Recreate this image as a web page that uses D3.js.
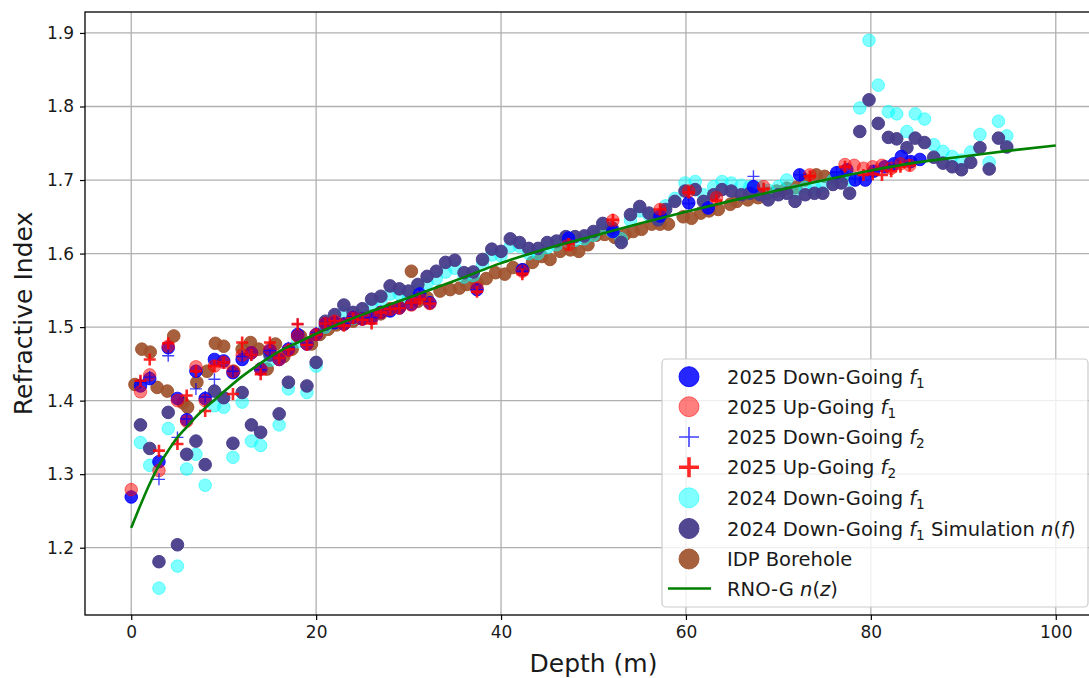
<!DOCTYPE html>
<html><head><meta charset="utf-8">
<script src="https://cdn.jsdelivr.net/npm/d3@7"></script>
<style>body{margin:0;background:#fff}svg{display:block}text{font-family:"DejaVu Sans",sans-serif;fill:#1a1a1a}</style>
</head><body><svg id="c" width="1089" height="678"></svg>
<script>
// ---- Data ----
const xTicks = [0, 20, 40, 60, 80, 100];
const yTicks = [1.2, 1.3, 1.4, 1.5, 1.6, 1.7, 1.8, 1.9];

const d25DownF1 = [0,1,2,3,4,5,6,7,8,9,10,11,12,13,14,15,16,17,18,19,20,21,22,23,24,25,26,27,28,29,30.3,31.2,32.3,37.4,42.3,47.3,52.1,57.2,60.3,62.4,67.3,72.3,76.3,77.4,78.3,79.4,80.3,81.5,82.5,83.3,84.3,85.3];
const n25DownF1 = [1.269,1.420,1.430,1.317,1.472,1.403,1.374,1.440,1.403,1.456,1.454,1.438,1.456,1.465,1.443,1.468,1.456,1.470,1.490,1.477,1.490,1.504,1.506,1.504,1.513,1.511,1.512,1.520,1.522,1.526,1.531,1.545,1.533,1.551,1.578,1.621,1.630,1.651,1.669,1.662,1.691,1.707,1.710,1.714,1.700,1.700,1.712,1.718,1.722,1.732,1.725,1.728];

const d25UpF1 = [0,1,2,3,4,5,6,7,8,9,10,11,12,13,14,15,16,17,18,19,20,21,22,23,24,25,26,27,28,29,30.3,31.2,32.3,37.4,42.3,47.3,52.1,57.2,60.3,63.3,68.4,73.4,77.2,78.2,79.2,80.2,81.2,82.2,83.2,84.2];
const n25UpF1 = [1.279,1.412,1.435,1.305,1.474,1.400,1.372,1.446,1.400,1.447,1.452,1.440,1.462,1.465,1.443,1.470,1.456,1.468,1.488,1.477,1.490,1.505,1.508,1.504,1.513,1.511,1.512,1.520,1.524,1.526,1.530,1.540,1.532,1.553,1.576,1.612,1.645,1.660,1.685,1.676,1.691,1.707,1.721,1.720,1.716,1.718,1.720,1.716,1.722,1.720];

const d25DownF2 = [1,2,3,4,5,6,7,8,9,10,11,12,13,14,15,16,17,18,19,20,21,22,23,24,25,26,27,28,29,30.3,31.2,32.3,37.4,42.3,47.3,52.1,57.2,60.3,62.4,67.3,72.3,76.3,78.3,80.3,82.5,84.3];
const n25DownF2 = [1.425,1.432,1.293,1.461,1.350,1.375,1.416,1.405,1.429,1.452,1.440,1.460,1.462,1.442,1.468,1.458,1.472,1.504,1.478,1.492,1.505,1.507,1.505,1.514,1.512,1.513,1.521,1.523,1.527,1.532,1.546,1.534,1.551,1.576,1.620,1.633,1.652,1.668,1.663,1.705,1.707,1.711,1.702,1.712,1.720,1.724];

const d25UpF2 = [1,2,3,4,5,6,7,8,9,10,11,12,13,14,15,16,17,18,19,20,21,22,23,24,25,26,27,28,29,30.3,31.2,32.3,37.4,42.3,47.3,52.1,57.2,60.3,63.3,68.4,73.4,77.2,79.2,80.2,81.2,82.2,83.2,84.2];
const n25UpF2 = [1.427,1.456,1.332,1.478,1.341,1.407,1.440,1.386,1.447,1.452,1.409,1.479,1.462,1.436,1.479,1.458,1.470,1.504,1.476,1.490,1.505,1.508,1.502,1.512,1.510,1.505,1.520,1.524,1.526,1.533,1.538,1.532,1.548,1.572,1.613,1.646,1.660,1.683,1.672,1.688,1.705,1.718,1.707,1.708,1.707,1.712,1.718,1.720];

const d24 = [1,2,3,4,5,6,7,8,9,10,11,12,13,14,15,16,17,18,19,20,21,22,23,24,25,26,27,28,29,30,31,32,33,34,35,36,37,38,39,40,41,42,43,44,45,46,47,48,49,50,51,52,53,54,55,56,57,57.8,58.8,59.9,61,61.9,63,63.9,64.9,66,66.9,68,68.9,70,70.9,71.8,72.9,73.9,74.8,75.9,76.8,77.7,78.8,79.8,80.8,81.9,82.8,83.9,84.8,85.8,86.8,87.8,88.8,89.8,90.8,91.8,92.8,93.8,94.7];
const n24DownF1 = [1.343,1.312,1.145,1.362,1.175,1.307,1.327,1.285,1.393,1.391,1.323,1.398,1.345,1.339,1.455,1.367,1.416,1.480,1.411,1.447,1.500,1.508,1.520,1.512,1.515,1.530,1.535,1.545,1.545,1.540,1.550,1.560,1.566,1.575,1.580,1.568,1.570,1.585,1.598,1.597,1.610,1.610,1.600,1.600,1.608,1.612,1.617,1.618,1.620,1.625,1.635,1.630,1.620,1.645,1.658,1.652,1.648,1.665,1.675,1.696,1.698,1.680,1.691,1.698,1.696,1.693,1.691,1.690,1.686,1.691,1.700,1.685,1.690,1.690,1.692,1.700,1.705,1.700,1.798,1.890,1.829,1.793,1.790,1.766,1.790,1.783,1.748,1.739,1.732,1.727,1.738,1.762,1.724,1.780,1.760];
const n24Sim = [1.367,1.335,1.181,1.384,1.204,1.327,1.345,1.313,1.413,1.404,1.342,1.411,1.367,1.357,1.462,1.382,1.425,1.488,1.420,1.452,1.508,1.517,1.530,1.520,1.525,1.538,1.542,1.556,1.552,1.549,1.558,1.569,1.576,1.588,1.591,1.574,1.575,1.592,1.606,1.603,1.620,1.615,1.607,1.607,1.615,1.617,1.623,1.623,1.624,1.630,1.641,1.635,1.615,1.653,1.664,1.655,1.646,1.660,1.671,1.685,1.687,1.671,1.680,1.687,1.685,1.680,1.682,1.680,1.673,1.680,1.682,1.671,1.680,1.682,1.682,1.694,1.696,1.682,1.766,1.809,1.777,1.758,1.756,1.744,1.757,1.751,1.731,1.723,1.718,1.714,1.724,1.744,1.715,1.757,1.745];

const dIDP = [0.4,1.15,2.05,2.8,3.9,4.6,5.6,6.1,7.1,8.2,9.1,10.0,11.1,12.0,12.9,13.8,14.7,15.6,16.5,17.4,18.3,19.5,20.4,21.3,22.2,23.1,24.0,25,26,27,28,29,30.3,31,32,33.4,34.5,35.5,36.3,37.4,38.4,39.4,40.4,41.3,42.4,43.4,44.4,45.3,46.4,47.5,48.4,49.4,50.3,51.2,52.3,53.4,54.3,55.2,56.3,57.2,58.1,59.7,60.6,61.6,62.5,63.5,64.8,65.5,66.7,67.8,68.8,69.8,70.9,71.9,72.9,74.1,75.0,76.0,77.0];
const nIDP = [1.422,1.470,1.466,1.418,1.413,1.488,1.397,1.391,1.425,1.440,1.478,1.474,1.440,1.470,1.479,1.470,1.443,1.477,1.460,1.470,1.488,1.477,1.490,1.497,1.503,1.505,1.508,1.512,1.515,1.518,1.525,1.528,1.576,1.535,1.540,1.549,1.551,1.553,1.558,1.560,1.566,1.574,1.572,1.581,1.578,1.588,1.596,1.592,1.603,1.605,1.603,1.612,1.625,1.626,1.622,1.626,1.630,1.633,1.640,1.640,1.640,1.650,1.648,1.655,1.658,1.660,1.667,1.671,1.673,1.676,1.682,1.685,1.689,1.690,1.700,1.707,1.705,1.703,1.705];

const dModel = [0,1,2,3,4,5,6,7,8,9,10,12,14,16,18,20,22,25,30,35,40,45,50,55,60,65,70,75,80,85,90,95,100];
const nModel = [1.227,1.258,1.287,1.312,1.332,1.350,1.364,1.378,1.390,1.401,1.412,1.433,1.451,1.467,1.479,1.491,1.502,1.517,1.540,1.563,1.587,1.607,1.624,1.641,1.657,1.672,1.686,1.700,1.713,1.724,1.732,1.740,1.747];

const legendLabels = ["2025 Down-Going", "2025 Up-Going", "2025 Down-Going", "2025 Up-Going", "2024 Down-Going", "2024 Down-Going", "IDP Borehole", "RNO-G"];

// ---- Chart ----
const svg = d3.select("#c");
const L = 85, R = 1102, T = 12, B = 615;
const x = d3.scaleLinear().domain([-5, 105]).range([L, R]);
const y = d3.scaleLinear().domain([1.1085, 1.9285]).range([B, T]);

svg.append("defs").append("clipPath").attr("id","clip")
  .append("rect").attr("x",L).attr("y",T).attr("width",R-L).attr("height",B-T);

// grid
const g = svg.append("g");
g.selectAll(".gx").data(xTicks).join("line")
  .attr("x1",d=>x(d)).attr("x2",d=>x(d)).attr("y1",T).attr("y2",B)
  .attr("stroke","#b0b0b0").attr("stroke-width",1.3);
g.selectAll(".gy").data(yTicks).join("line")
  .attr("y1",d=>y(d)).attr("y2",d=>y(d)).attr("x1",L).attr("x2",R)
  .attr("stroke","#b0b0b0").attr("stroke-width",1.3);

// axes
const xAx = svg.append("g").attr("transform",`translate(0,${B})`)
  .call(d3.axisBottom(x).tickValues(xTicks).tickSize(5).tickPadding(6).tickFormat(d3.format("d")));
const yAx = svg.append("g").attr("transform",`translate(${L},0)`)
  .call(d3.axisLeft(y).tickValues(yTicks).tickSize(5).tickPadding(6).tickFormat(d3.format(".1f")));
[xAx,yAx].forEach(a=>{
  a.select(".domain").remove();
  a.selectAll(".tick line").attr("stroke","#000").attr("stroke-width",1.2);
  a.selectAll(".tick text").attr("font-size",17).attr("font-family","DejaVu Sans").attr("fill","#1a1a1a");
});

const plot = svg.append("g").attr("clip-path","url(#clip)");
function circles(ds, ns, color, op, r){
  plot.append("g").selectAll("circle").data(ds.map((d,i)=>[d,ns[i]])).join("circle")
    .attr("cx",d=>x(d[0])).attr("cy",d=>y(d[1])).attr("r",r)
    .attr("fill",color).attr("fill-opacity",op)
    .attr("stroke",color).attr("stroke-opacity",op).attr("stroke-width",1);
}
function pluses(ds, ns, color, op, s, w){
  plot.append("g").selectAll("path").data(ds.map((d,i)=>[d,ns[i]])).join("path")
    .attr("d",d=>{const cx=x(d[0]),cy=y(d[1]);return `M${cx-s},${cy}H${cx+s}M${cx},${cy-s}V${cy+s}`;})
    .attr("stroke",color).attr("stroke-opacity",op).attr("stroke-width",w).attr("fill","none");
}
const RAD = 6.3;
circles(dIDP, nIDP, "#a0522d", 0.92, RAD);
circles(d24, n24DownF1, "#00ffff", 0.5, RAD);
circles(d24, n24Sim, "#483d8b", 0.95, RAD);
circles(d25DownF1, n25DownF1, "#0000ff", 0.85, RAD);
circles(d25UpF1, n25UpF1, "#ff0000", 0.5, RAD);
pluses(d25DownF2, n25DownF2, "#0000ff", 0.75, 6, 1.4);
pluses(d25UpF2, n25UpF2, "#ff0000", 0.85, 6, 2.6);

plot.append("path").datum(dModel.map((d,i)=>[d,nModel[i]]))
  .attr("d", d3.line().x(d=>x(d[0])).y(d=>y(d[1])).curve(d3.curveMonotoneX))
  .attr("fill","none").attr("stroke","#008000").attr("stroke-width",2.6);

// spines
svg.append("rect").attr("x",L).attr("y",T).attr("width",R-L).attr("height",B-T)
  .attr("fill","none").attr("stroke","#000").attr("stroke-width",1.3);

// axis labels
svg.append("text").attr("x",(L+R)/2).attr("y",672).attr("text-anchor","middle")
  .attr("font-size",25).text("Depth (m)");
svg.append("text").attr("transform",`translate(32,${(T+B)/2}) rotate(-90)`).attr("text-anchor","middle")
  .attr("font-size",25).text("Refractive Index");

// legend
const lg = svg.append("g");
lg.append("rect").attr("x",662).attr("y",359).attr("width",426).attr("height",248).attr("rx",4)
  .attr("fill","#fff").attr("fill-opacity",0.8).attr("stroke","#cccccc").attr("stroke-width",1.2);
const rowsY = [376.7, 406.7, 437, 467.3, 497.8, 528.5, 559, 588.5];
const mx = 689, tx = 727, FS = 19.5;
const legendMarks = [
  {t:"c", c:"#0000ff", o:0.85}, {t:"c", c:"#ff0000", o:0.5}, {t:"p", c:"#0000ff", o:0.75, w:1.6},
  {t:"p", c:"#ff0000", o:0.85, w:3.6}, {t:"c", c:"#00ffff", o:0.5}, {t:"c", c:"#483d8b", o:0.95},
  {t:"c", c:"#a0522d", o:0.92}, {t:"l", c:"#008000"}];
legendMarks.forEach((m,i)=>{
  const cy = rowsY[i];
  if(m.t==="c") lg.append("circle").attr("cx",mx).attr("cy",cy).attr("r",10)
      .attr("fill",m.c).attr("fill-opacity",m.o).attr("stroke",m.c).attr("stroke-opacity",m.o);
  else if(m.t==="p") lg.append("path").attr("d",`M${mx-10},${cy}H${mx+10}M${mx},${cy-10}V${cy+10}`)
      .attr("stroke",m.c).attr("stroke-opacity",m.o).attr("stroke-width",m.w);
  else lg.append("line").attr("x1",668).attr("x2",711).attr("y1",cy).attr("y2",cy)
      .attr("stroke",m.c).attr("stroke-width",2.6);
  const t = lg.append("text").attr("x",tx).attr("y",cy+7).attr("font-size",FS);
  t.append("tspan").text(legendLabels[i]);
  const sub = (ch)=>{ t.append("tspan").attr("font-style","italic").text(" f");
    t.append("tspan").attr("font-size",FS*0.7).attr("dy",4).text(ch); };
  if(i===0||i===1||i===4) sub("1");
  if(i===2||i===3) sub("2");
  if(i===5){ sub("1"); t.append("tspan").attr("dy",-4).text(" Simulation ");
    t.append("tspan").attr("font-style","italic").text("n");
    t.append("tspan").text("(");
    t.append("tspan").attr("font-style","italic").text("f");
    t.append("tspan").text(")"); }
  if(i===7){ t.append("tspan").text(" ");
    t.append("tspan").attr("font-style","italic").text("n");
    t.append("tspan").text("(");
    t.append("tspan").attr("font-style","italic").text("z");
    t.append("tspan").text(")"); }
});
</script></body></html>
